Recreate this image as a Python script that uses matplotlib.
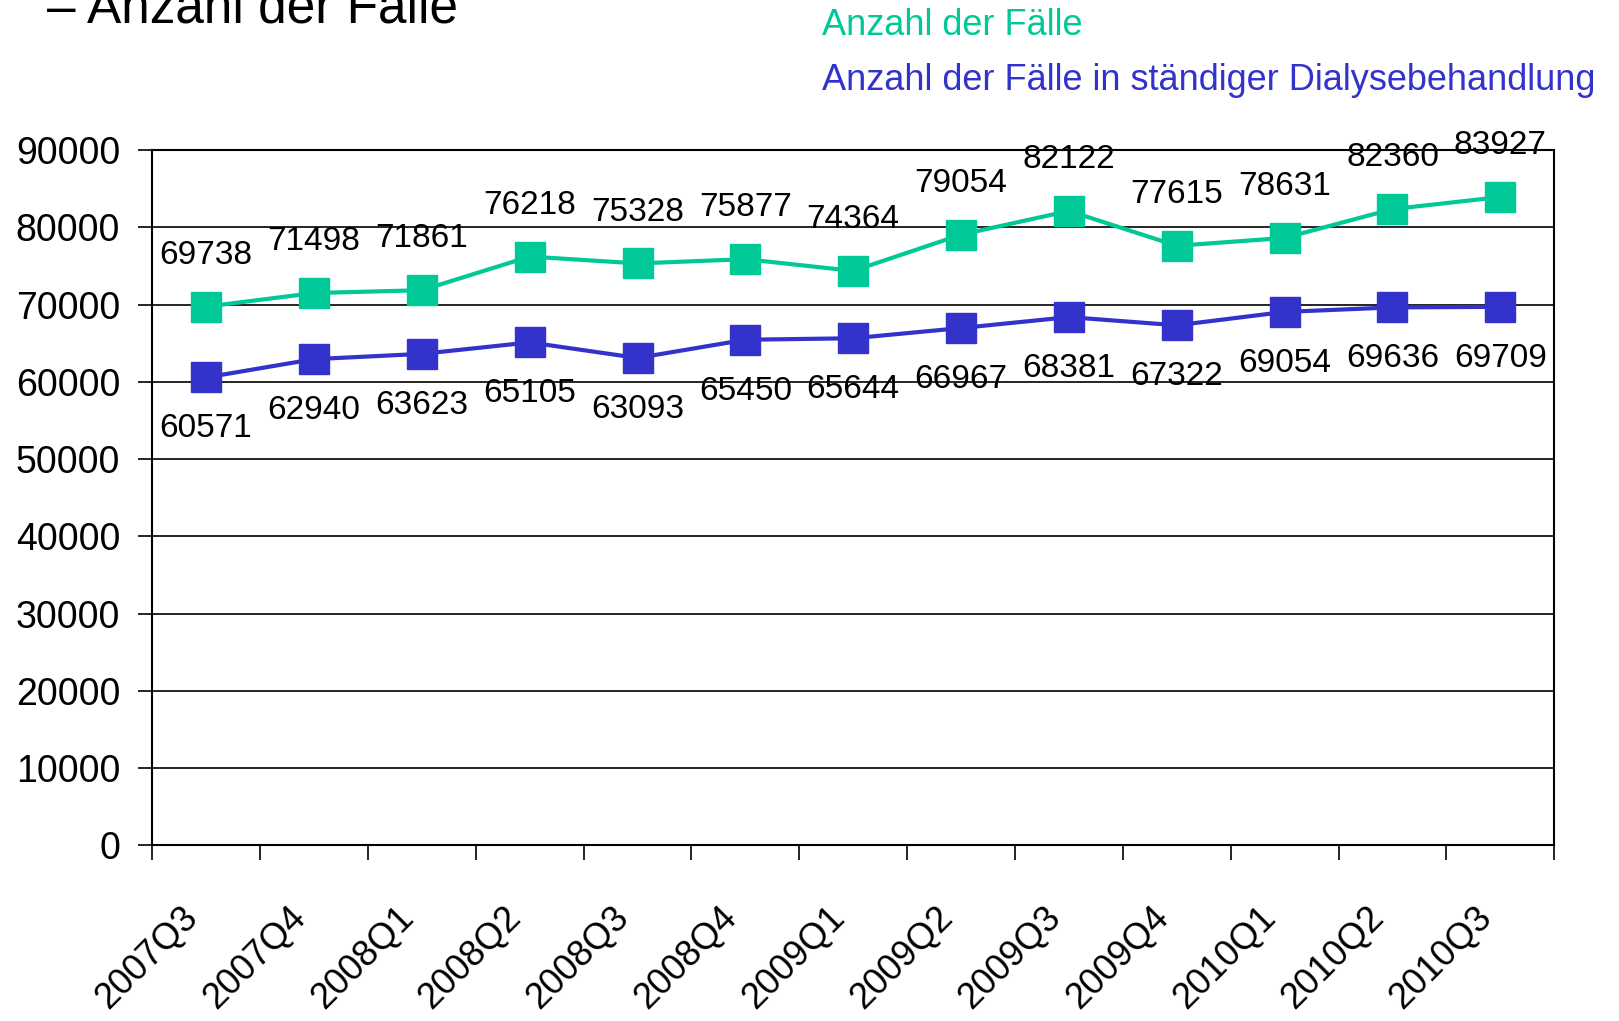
import matplotlib
matplotlib.use('Agg')
import matplotlib.pyplot as plt
import matplotlib.transforms as mtrans
from matplotlib import font_manager

quarters = ['2007Q3', '2007Q4', '2008Q1', '2008Q2', '2008Q3', '2008Q4', '2009Q1',
            '2009Q2', '2009Q3', '2009Q4', '2010Q1', '2010Q2', '2010Q3']
faelle = [69738, 71498, 71861, 76218, 75328, 75877, 74364,
          79054, 82122, 77615, 78631, 82360, 83927]
dialyse = [60571, 62940, 63623, 65105, 63093, 65450, 65644,
           66967, 68381, 67322, 69054, 69636, 69709]
yticks = list(range(0, 90001, 10000))

GREEN = '#00C896'
BLUE = '#3333CC'

names = set(f.name for f in font_manager.fontManager.ttflist)
fam = ['Liberation Sans Narrow', 'Liberation Sans', 'DejaVu Sans']
fam = [f for f in fam if f in names] or ['DejaVu Sans']
plt.rcParams['font.family'] = fam

fig = plt.figure(figsize=(16.19, 10.21), dpi=100)
ax = fig.add_axes([0.094, 0.172, 0.866, 0.681])

x = list(range(len(quarters)))
ax.plot(x, faelle, color=GREEN, lw=3, marker='s', ms=22, zorder=3)
ax.plot(x, dialyse, color=BLUE, lw=3, marker='s', ms=22, zorder=3)

for xi, v in zip(x, faelle):
    ax.annotate(str(v), (xi, v), xytext=(0, 37), textcoords='offset points',
                ha='center', va='center', fontsize=24, zorder=4)
for xi, v in zip(x, dialyse):
    ax.annotate(str(v), (xi, v), xytext=(0, -37), textcoords='offset points',
                ha='center', va='center', fontsize=24, zorder=4)

ax.set_xlim(-0.5, len(quarters) - 0.5)
ax.set_ylim(0, 90000)
ax.set_yticks(yticks)
ax.set_yticklabels([str(t) for t in yticks], fontsize=27)
ax.yaxis.grid(True, color='black', lw=1.2)
ax.set_axisbelow(True)

# category boundaries as major ticks, labels on minor ticks
ax.set_xticks([i - 0.5 for i in range(len(quarters) + 1)])
ax.set_xticklabels([])
ax.set_xticks(x, minor=True)
ax.set_xticklabels(quarters, minor=True, rotation=45, ha='right',
                   rotation_mode='anchor', fontsize=26)
ax.tick_params(axis='x', which='major', length=11, width=1.2, direction='out')
ax.tick_params(axis='x', which='minor', length=0, pad=39)
ax.tick_params(axis='y', length=10, width=1.2, pad=13)
shift = mtrans.ScaledTranslation(-0.26, 0, fig.dpi_scale_trans)
for lab in ax.get_xticklabels(minor=True):
    lab.set_transform(lab.get_transform() + shift)
for s in ax.spines.values():
    s.set_linewidth(1.5)

fig.text(0.029, 0.978, '\u2013 Anzahl der F\u00e4lle', fontsize=37, va='baseline')
fig.text(0.508, 0.975, 'Anzahl der F\u00e4lle', color=GREEN, fontsize=26, va='center')
fig.text(0.508, 0.921, 'Anzahl der F\u00e4lle in st\u00e4ndiger Dialysebehandlung',
         color=BLUE, fontsize=26, va='center')

fig.savefig('out.png', dpi=100)
